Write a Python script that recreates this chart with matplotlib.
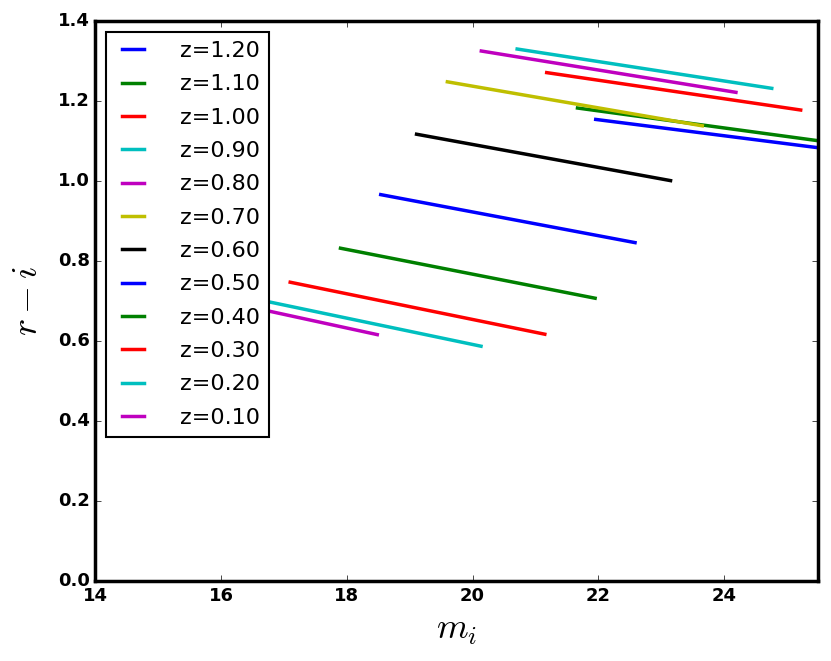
import matplotlib
matplotlib.use("Agg")
import matplotlib.pyplot as plt

plt.style.use("classic")

# Redshift labels (legend order) and line end points
redshifts = ["1.20", "1.10", "1.00", "0.90", "0.80", "0.70",
             "0.60", "0.50", "0.40", "0.30", "0.20", "0.10"]
colors = ["b", "g", "r", "c", "m", "y", "k", "b", "g", "r", "c", "m"]
mag_start = [21.96, 21.67, 21.18, 20.71, 20.14, 19.60,
             19.11, 18.54, 17.90, 17.10, 16.09, 14.44]
mag_end = [26.01, 25.72, 25.22, 24.76, 24.19, 23.655,
           23.15, 22.585, 21.95, 21.15, 20.135, 18.485]
col_start = [1.154, 1.1825, 1.271, 1.330, 1.325, 1.248,
             1.117, 0.966, 0.832, 0.747, 0.720, 0.754]
col_end = [1.073, 1.096, 1.1775, 1.2317, 1.2217, 1.138,
           1.001, 0.846, 0.707, 0.617, 0.587, 0.616]

fig = plt.figure(figsize=(8.31, 6.61), dpi=100, facecolor="white")
ax = fig.add_axes([0.1147, 0.121, 0.870, 0.8472])

for z, c, m0, m1, c0, c1 in zip(redshifts, colors, mag_start, mag_end, col_start, col_end):
    ax.plot([m0, m1], [c0, c1], color=c, lw=2.5, label="z=" + z)

ax.set_xlim(14, 25.5)
ax.set_ylim(0.0, 1.4)
ax.set_xticks([14, 16, 18, 20, 22, 24])
ax.set_yticks([0.0, 0.2, 0.4, 0.6, 0.8, 1.0, 1.2, 1.4])
ax.set_yticklabels(["0.0", "0.2", "0.4", "0.6", "0.8", "1.0", "1.2", "1.4"])
for lbl in ax.get_xticklabels() + ax.get_yticklabels():
    lbl.set_fontweight("bold")
    lbl.set_fontsize(13)
for sp in ax.spines.values():
    sp.set_linewidth(2.5)

ax.set_xlabel(r"$m_i$", fontsize=26, labelpad=6)
ax.set_ylabel(r"$r-i$", fontsize=26, labelpad=10)

leg = ax.legend(loc="upper left", fontsize=16, handlelength=1.6,
                handletextpad=1.3, labelspacing=0.6, borderpad=0.4,
                borderaxespad=0.5)
leg.get_frame().set_linewidth(1.5)

fig.savefig("out.png", dpi=100, facecolor="white")
